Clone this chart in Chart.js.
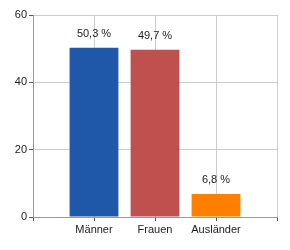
<!DOCTYPE html>
<html><head><meta charset="utf-8">
<script src="https://cdn.jsdelivr.net/npm/chart.js@4/dist/chart.umd.min.js"></script>
<style>html,body{margin:0;padding:0;background:#fff}#w{width:290px;height:250px}</style>
</head><body><div id="w"><canvas id="c"></canvas></div>
<script>
const categories = ['', 'Männer', 'Frauen', 'Ausländer', ''];
const values = [null, 50.3, 49.7, 6.8, null];
const labels = ['', '50,3 %', '49,7 %', '6,8 %', ''];
const barColors = ['#000', '#1F58A8', '#C0504D', '#FF8000', '#000'];
const yTicks = [0, 20, 40, 60];

const valueLabels = {
  id: 'valueLabels',
  afterDatasetsDraw(chart) {
    const ctx = chart.ctx;
    const meta = chart.getDatasetMeta(0);
    ctx.save();
    ctx.font = '11px "Liberation Sans", Arial, sans-serif';
    ctx.fillStyle = '#222';
    ctx.textAlign = 'center';
    ctx.textBaseline = 'middle';
    meta.data.forEach((bar, i) => {
      if (values[i] == null) return;
      ctx.fillText(labels[i], bar.x, bar.y - 14);
    });
    ctx.restore();
  }
};

new Chart(document.getElementById('c'), {
  type: 'bar',
  data: { labels: categories, datasets: [{ data: values, backgroundColor: barColors, barPercentage: 0.8, categoryPercentage: 1 }] },
  options: {
    responsive: true, maintainAspectRatio: false, animation: false,
    layout: { padding: { left: 0, right: 13, top: 15, bottom: 0 } },
    plugins: { legend: { display: false }, tooltip: { enabled: false } },
    scales: {
      x: {
        offset: false,
        grid: { color: '#ccc', tickColor: '#555', tickLength: 4, offset: false },
        border: { color: '#999' },
        ticks: { color: '#222', font: { size: 11, family: '"Liberation Sans", Arial, sans-serif' }, maxRotation: 0, autoSkip: false, padding: 2 },
        afterFit(s) { s.height = 33; }
      },
      y: {
        min: 0, max: 60,
        afterBuildTicks(s) { s.ticks = yTicks.map(v => ({ value: v })); },
        grid: { color: '#ccc', tickColor: '#555', tickLength: 4 },
        border: { color: '#999' },
        ticks: { color: '#222', font: { size: 11, family: '"Liberation Sans", Arial, sans-serif' }, padding: 2 },
        afterFit(s) { s.width = 33; }
      }
    }
  },
  plugins: [valueLabels]
});
</script></body></html>
